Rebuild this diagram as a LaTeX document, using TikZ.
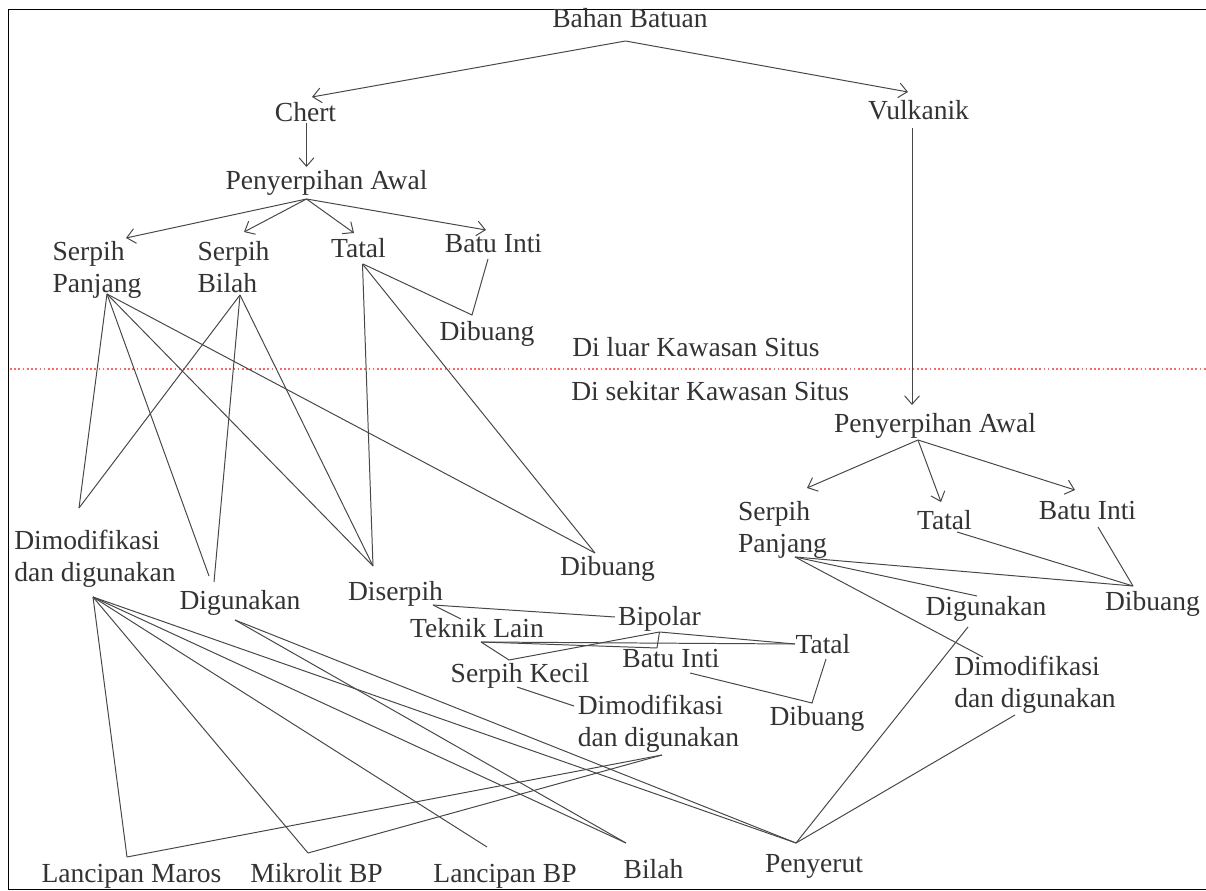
\documentclass[tikz,border=0pt]{standalone}
\usepackage{fontspec}
\setmainfont{Liberation Serif}
\usetikzlibrary{arrows.meta}
\tikzset{
  lbl/.style={anchor=base, inner sep=0pt, text=black!80, font=\fontsize{19.6}{22.8}\selectfont},
  lbltwo/.style={lbl, align=left},
  link/.style={draw=black!72, line width=0.7pt},
  arr/.style={link, -{Straight Barb[length=6pt,width=10.5pt]}}
}

\begin{document}
\begin{tikzpicture}[x=0.025cm, y=-0.025cm]
		\useasboundingbox (0,0) rectangle (1206,891);
		%%%%% frame and site border %%%%%
		\draw[line width=0.7pt] (1215,9) -- (8,9) -- (8,889) -- (1215,889);
		\draw[red!60, line width=0.8pt, dash pattern=on 1.2pt off 1.8pt] (10,369) -- (1206,369);
		
		%%%%% labels, top part %%%%%
		\node[lbl] (bahan) at (630,28) {Bahan Batuan};
		\node[lbl] (chert) at (305.5,122) {Chert};
		\node[lbl] (vulk) at (918.5,120) {Vulkanik};
		\node[lbl] (pawL) at (326.5,190) {Penyerpihan Awal};
		\node[lbltwo] (spL) at (97,293) {Serpih\\Panjang};
		\node[lbltwo] (sbL) at (233.5,293) {Serpih\\Bilah};
		\node[lbl] (tatL) at (358.5,258) {Tatal};
		\node[lbl] (batL) at (493.5,253) {Batu Inti};
		\node[lbl] (dbL) at (487,341) {Dibuang};
		\node[lbl, anchor=base west] (luar) at (572,357) {Di luar Kawasan Situs};
		\node[lbl, anchor=base west] (sekitar) at (571,401) {Di sekitar Kawasan Situs};
		
		%%%%% labels, chert below %%%%%
		\node[lbltwo] (dmL) at (95,582) {Dimodifikasi\\dan digunakan};
		\node[lbl] (diguL) at (240,610) {Digunakan};
		\node[lbl] (diserpih) at (395.5,601) {Diserpih};
		\node[lbl] (dbM) at (607.5,576) {Dibuang};
		\node[lbl] (teknik) at (477,638) {Teknik Lain};
		\node[lbl] (bipolar) at (659.5,626) {Bipolar};
		\node[lbl] (batM) at (671,668) {Batu Inti};
		\node[lbl] (tatM) at (823,654) {Tatal};
		\node[lbl] (kecil) at (520,683) {Serpih Kecil};
		\node[lbltwo] (dmM) at (658.5,747) {Dimodifikasi\\dan digunakan};
		\node[lbl] (dbMM) at (817,726) {Dibuang};
		
		%%%%% labels, vulkanik below %%%%%
		\node[lbl] (pawR) at (935,433) {Penyerpihan Awal};
		\node[lbltwo] (spR) at (782.5,553) {Serpih\\Panjang};
		\node[lbl] (tatR) at (944.5,530) {Tatal};
		\node[lbl] (batR) at (1087.5,520) {Batu Inti};
		\node[lbl] (diguR) at (986,616) {Digunakan};
		\node[lbl] (dbR) at (1152.5,611) {Dibuang};
		\node[lbltwo] (dmR) at (1035,708) {Dimodifikasi\\dan digunakan};
		
		%%%%% tools %%%%%
		\node[lbl] (maros) at (131.5,883) {Lancipan Maros};
		\node[lbl] (mikro) at (316.5,883) {Mikrolit BP};
		\node[lbl] (lbp) at (505,883) {Lancipan BP};
		\node[lbl] (bilah) at (653.5,879) {Bilah};
		\node[lbl] (nyerut) at (814,873) {Penyerut};
		
		%%%%% arrows %%%%%
		\draw[arr] ([shift={(-4.5,13)}]bahan.base) -- ([shift={(6.5,-25)}]chert.base);
		\draw[arr] ([shift={(-4.5,13)}]bahan.base) -- ([shift={(-10.5,-28)}]vulk.base);
		\draw[arr] ([shift={(1,1)}]chert.base) -- ([shift={(-20,-23)}]pawL.base);
		\draw[arr] ([shift={(-20,9)}]pawL.base) -- ([shift={(29,-55)}]spL.base);
		\draw[arr] ([shift={(-20,9)}]pawL.base) -- ([shift={(10.5,-61)}]sbL.base);
		\draw[arr] ([shift={(-20,9)}]pawL.base) -- ([shift={(-4.5,-25)}]tatL.base);
		\draw[arr] ([shift={(-20,9)}]pawL.base) -- ([shift={(-7.5,-23)}]batL.base);
		\draw[arr] ([shift={(-6.5,8)}]vulk.base) -- ([shift={(-23,-28)}]pawR.base);
		\draw[arr] ([shift={(-17,7)}]pawR.base) -- ([shift={(24.5,-65)}]spR.base);
		\draw[arr] ([shift={(-17,7)}]pawR.base) -- ([shift={(-3.5,-28)}]tatR.base);
		\draw[arr] ([shift={(-17,7)}]pawR.base) -- ([shift={(-12.5,-30)}]batR.base);
		
		%%%%% chert lines %%%%%
		\draw[link] ([shift={(4.5,6)}]tatL.base) -- ([shift={(-15,-26)}]dbL.base) -- ([shift={(-5.5,6)}]batL.base);
		\draw[link] ([shift={(10,1)}]spL.base) -- ([shift={(-16,-74)}]dmL.base);
		\draw[link] ([shift={(10,1)}]spL.base) -- ([shift={(-31,-34)}]diguL.base);
		\draw[link] ([shift={(10,1)}]spL.base) -- ([shift={(-22.5,-35)}]diserpih.base);
		\draw[link] ([shift={(10,1)}]spL.base) -- ([shift={(-12.5,-23)}]dbM.base);
		\draw[link] ([shift={(6.5,2)}]sbL.base) -- ([shift={(-16,-74)}]dmL.base);
		\draw[link] ([shift={(6.5,2)}]sbL.base) -- ([shift={(-26,-28)}]diguL.base);
		\draw[link] ([shift={(6.5,2)}]sbL.base) -- ([shift={(-22.5,-35)}]diserpih.base);
		\draw[link] ([shift={(4,6)}]tatL.base) -- ([shift={(-22.5,-35)}]diserpih.base);
		\draw[link] ([shift={(4,6)}]tatL.base) -- ([shift={(-12.5,-23)}]dbM.base);
		
		\draw[link] ([shift={(37.5,4)}]diserpih.base) -- ([shift={(-44.5,-9)}]bipolar.base);
		\draw[link] ([shift={(37.5,4)}]diserpih.base) -- ([shift={(-16,-19)}]teknik.base);
		\draw[link] ([shift={(4,4)}]teknik.base) -- ([shift={(-28,-10)}]tatM.base);
		\draw[link] ([shift={(4,4)}]teknik.base) -- ([shift={(-14,-20)}]batM.base);
		\draw[link] ([shift={(4,4)}]teknik.base) -- ([shift={(-11,-23)}]kecil.base);
		\draw[link] ([shift={(0,6)}]bipolar.base) -- ([shift={(-28,-10)}]tatM.base);
		\draw[link] ([shift={(0,6)}]bipolar.base) -- ([shift={(-14,-20)}]batM.base);
		\draw[link] ([shift={(0,6)}]bipolar.base) -- ([shift={(-11,-23)}]kecil.base);
		\draw[link] ([shift={(19,5)}]batM.base) -- ([shift={(-5,-23)}]dbMM.base) -- ([shift={(3,5)}]tatM.base);
		\draw[link] ([shift={(-3,4)}]kecil.base) -- ([shift={(-84.5,-41)}]dmM.base);
		
		%%%%% to the tools %%%%%
		\draw[link] ([shift={(3.5,8)}]dmM.base) -- ([shift={(-4.5,-26)}]maros.base);
		\draw[link] ([shift={(3.5,8)}]dmM.base) -- ([shift={(-8.5,-30)}]mikro.base);
		\draw[link] ([shift={(-2,15)}]dmL.base) -- ([shift={(-4.5,-26)}]maros.base);
		\draw[link] ([shift={(-2,15)}]dmL.base) -- ([shift={(-8.5,-30)}]mikro.base);
		\draw[link] ([shift={(-2,15)}]dmL.base) -- ([shift={(-18,-36)}]lbp.base);
		\draw[link] ([shift={(-2,15)}]dmL.base) -- ([shift={(-27.5,-36)}]bilah.base);
		\draw[link] ([shift={(-2,15)}]dmL.base) -- ([shift={(-18,-30)}]nyerut.base);
		\draw[link] ([shift={(-5,10)}]diguL.base) -- ([shift={(-27.5,-36)}]bilah.base);
		\draw[link] ([shift={(-5,10)}]diguL.base) -- ([shift={(-18,-30)}]nyerut.base);
		
		%%%%% vulkanik lines %%%%%
		\draw[link] ([shift={(12.5,4)}]spR.base) -- ([shift={(-19.5,-25)}]dbR.base);
		\draw[link] ([shift={(12.5,4)}]spR.base) -- ([shift={(-9,-20)}]diguR.base);
		\draw[link] ([shift={(12.5,4)}]spR.base) -- ([shift={(-52,-51)}]dmR.base);
		\draw[link] ([shift={(12.5,2)}]tatR.base) -- ([shift={(-19.5,-25)}]dbR.base);
		\draw[link] ([shift={(10.5,7)}]batR.base) -- ([shift={(-19.5,-25)}]dbR.base);
		\draw[link] ([shift={(-18,11)}]diguR.base) -- ([shift={(-18,-30)}]nyerut.base);
		\draw[link] ([shift={(-20,7)}]dmR.base) -- ([shift={(-18,-30)}]nyerut.base);
	\end{tikzpicture}
\end{document}
